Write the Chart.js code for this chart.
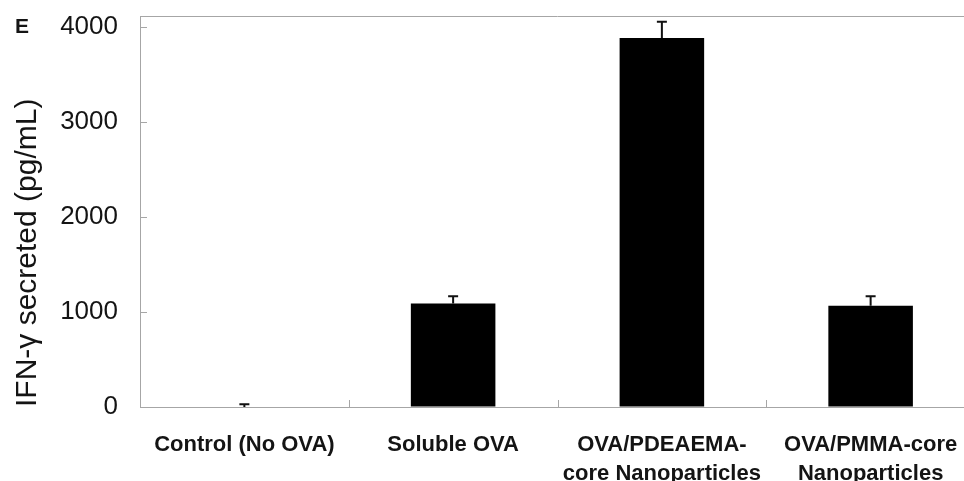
<!DOCTYPE html>
<html lang="en">

<head>
  <meta charset="UTF-8">
  <title>IFN-γ secretion</title>
  <script src="https://cdn.jsdelivr.net/npm/chart.js"></script>
  <style>
    body {
      margin: 0;
      overflow: hidden;
      background: #fff;
    }
  </style>
</head>

<body>
  <canvas id="ifnChart" width="975" height="481"></canvas>
  <script>
    // values (pg/mL)
    const categories = [
      'Control (No OVA)',
      'Soluble OVA',
      ['OVA/PDEAEMA-', 'core Nanoparticles'],
      ['OVA/PMMA-core', 'Nanoparticles']
    ];
    const ifnValues = [0, 1090, 3885, 1065];
    const ifnErrors = [30, 75, 170, 100];
    const yTicks = [0, 1000, 2000, 3000, 4000];

    const axisGray = '#a6a6a6';
    const textColor = '#141414';

    // error bars (upper half only), tick marks pointing inward, top frame line, panel letter
    const extrasPlugin = {
      id: 'extras',
      afterDatasetsDraw(chart) {
        const ctx = chart.ctx;
        const x = chart.scales.x;
        const y = chart.scales.y;
        const area = chart.chartArea;
        const bars = chart.getDatasetMeta(0).data;

        ctx.save();
        ctx.strokeStyle = '#111';
        ctx.lineWidth = 2;
        bars.forEach((bar, i) => {
          const top = y.getPixelForValue(ifnValues[i] + ifnErrors[i]);
          const base = y.getPixelForValue(ifnValues[i]);
          ctx.beginPath();
          ctx.moveTo(bar.x, base);
          ctx.lineTo(bar.x, top);
          ctx.moveTo(bar.x - 5, top);
          ctx.lineTo(bar.x + 5, top);
          ctx.stroke();
        });

        ctx.strokeStyle = axisGray;
        ctx.lineWidth = 1;
        // top frame
        ctx.beginPath();
        ctx.moveTo(area.left, area.top + 0.5);
        ctx.lineTo(area.right, area.top + 0.5);
        ctx.stroke();
        // y ticks inside
        yTicks.forEach(v => {
          const py = Math.round(y.getPixelForValue(v)) + 0.5;
          ctx.beginPath();
          ctx.moveTo(area.left, py);
          ctx.lineTo(area.left + 7, py);
          ctx.stroke();
        });
        // category separators inside
        for (let i = 1; i < categories.length; i++) {
          const px = Math.round((x.getPixelForValue(i - 1) + x.getPixelForValue(i)) / 2) + 0.5;
          ctx.beginPath();
          ctx.moveTo(px, area.bottom);
          ctx.lineTo(px, area.bottom - 7);
          ctx.stroke();
        }

        ctx.fillStyle = textColor;
        ctx.font = 'bold 21px "Liberation Sans", Arial, sans-serif';
        ctx.textBaseline = 'top';
        ctx.fillText('E', 15, 17);
        ctx.restore();
      }
    };

    const ctx = document.getElementById('ifnChart').getContext('2d');

    new Chart(ctx, {
      type: 'bar',
      data: {
        labels: categories,
        datasets: [{
          data: ifnValues,
          backgroundColor: '#000',
          borderWidth: 0,
          categoryPercentage: 1,
          barPercentage: 0.405,
        }]
      },
      options: {
        responsive: false,
        animation: false,
        layout: { padding: { top: 16, right: 0, left: 0, bottom: 0 } },
        plugins: {
          legend: { display: false },
          tooltip: { enabled: false },
        },
        scales: {
          x: {
            grid: { display: false, drawTicks: false },
            border: { color: axisGray, width: 1 },
            ticks: {
              color: textColor,
              padding: 23,
              maxRotation: 0,
              font: { family: '"Liberation Sans", Arial, sans-serif', size: 22, weight: 'bold', lineHeight: 1.32 },
            },
            afterFit(scale) {
              scale.height = 74;
              scale.paddingLeft = 0;
              scale.paddingRight = 0;
            },
          },
          y: {
            min: 0,
            max: 4116,
            grid: { drawOnChartArea: false, drawTicks: false },
            border: { color: axisGray, width: 1 },
            ticks: {
              stepSize: 1000,
              color: textColor,
              padding: 22,
              font: { family: '"Liberation Sans", Arial, sans-serif', size: 26 },
              callback: (v) => String(v),
            },
            afterBuildTicks(scale) {
              scale.ticks = yTicks.map(v => ({ value: v }));
            },
            afterFit(scale) {
              scale.width = 140;
              scale.paddingTop = 0;
              scale.paddingBottom = 0;
            },
            title: {
              display: true,
              text: 'IFN-γ secreted (pg/mL)',
              color: textColor,
              align: 'start',
              padding: { top: 10, bottom: 0 },
              font: { family: '"Liberation Sans", Arial, sans-serif', size: 30 },
            },
          },
        },
      },
      plugins: [extrasPlugin],
    });
  </script>
</body>

</html>
